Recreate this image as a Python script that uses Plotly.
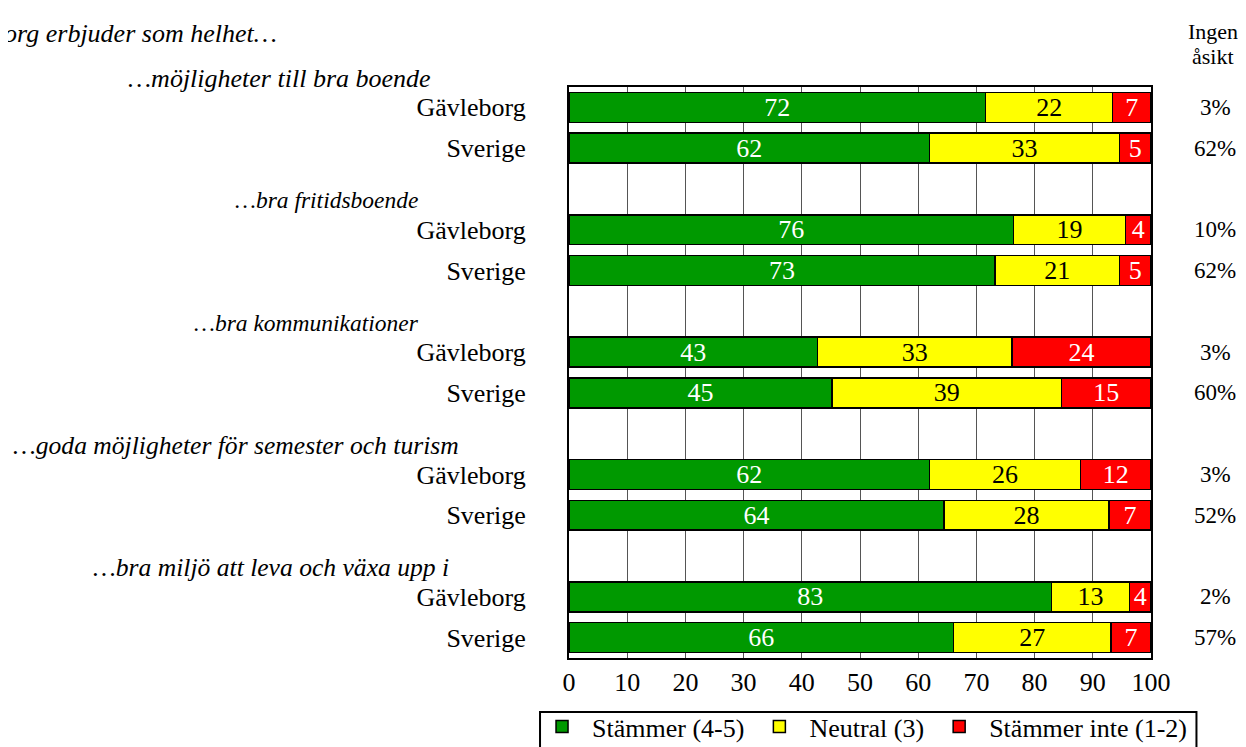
import plotly.graph_objects as go

# ---- data ----
groups = ["…möjligheter till bra boende", "…bra fritidsboende", "…bra kommunikationer",
          "…goda möjligheter för semester och turism", "…bra miljö att leva och växa upp i"]
regions = ["Gävleborg", "Sverige"]
stammer = [71.6, 61.9, 76.4, 73.2, 42.7, 45.2, 61.9, 64.4, 82.9, 66.1]
neutral = [21.8, 32.7, 19.2, 21.4, 33.4, 39.4, 26.0, 28.4, 13.4, 27.0]
stammer_inte = [6.6, 5.4, 4.4, 5.4, 23.9, 15.4, 12.1, 7.2, 3.7, 6.9]
ingen_asikt = ["3%", "62%", "10%", "62%", "3%", "60%", "3%", "52%", "2%", "57%"]
series_names = ["Stämmer (4-5)", "Neutral (3)", "Stämmer inte (1-2)"]
x_ticks = [0, 10, 20, 30, 40, 50, 60, 70, 80, 90, 100]
title_text = "Gävleborg erbjuder som helhet…"
ingen_header = ["Ingen", "åsikt"]

# ---- layout helpers ----
FONT = "Liberation Serif"
OFF = 8  # page body margin
ypos = []
labels = []
for g in range(len(groups)):
    for r in range(len(regions)):
        ypos.append(g * 3 + r)
        labels.append(regions[r])
Y_MIN, Y_MAX = -0.5, 13.5

header_x_end = [433, 420, 421, 461, 451]  # right edge of header text in screen px
header_size = [26, 23.5, 23.5, 25.6, 25.6]
PLOT_L, PLOT_R = 569 - OFF, 1151.5 - OFF
PLOT_T, PLOT_B = 87 - OFF, 658 - OFF
W, H = 1246, 747

def px_to_paper_x(px):
    return (px - OFF - PLOT_L) / (PLOT_R - PLOT_L)

def py_to_paper_y(py):
    return (PLOT_B - (py - OFF)) / (PLOT_B - PLOT_T)

def data_y_to_paper(y):
    return (Y_MAX - y) / (Y_MAX - Y_MIN)

colors = ["#009900", "#FFFF00", "#FF0000"]
text_colors = ["white", "black", "white"]
values = [stammer, neutral, stammer_inte]

fig = go.Figure()
for name, vals, c, tc in zip(series_names, values, colors, text_colors):
    fig.add_trace(go.Bar(
        x=vals, y=ypos, orientation="h", name=name,
        marker=dict(color=c, line=dict(color="black", width=1.5)),
        texttemplate="%{x:.0f}", textposition="inside", insidetextanchor="middle",
        textangle=0, textfont=dict(family=FONT, size=26, color=tc),
        constraintext="none", hoverinfo="skip",
    ))

annotations = []
annotations.append(dict(text=f"<i>{title_text}</i>", xref="paper", yref="paper",
                        x=px_to_paper_x(279), y=py_to_paper_y(33), xanchor="right", yanchor="middle",
                        showarrow=False, font=dict(family=FONT, size=26, color="black")))
for g, name in enumerate(groups):
    annotations.append(dict(text=f"<i>{name}</i>", xref="paper", yref="paper",
                            x=px_to_paper_x(header_x_end[g]), y=data_y_to_paper(g * 3 - 0.72),
                            xanchor="right", yanchor="middle", showarrow=False,
                            font=dict(family=FONT, size=header_size[g], color="black")))
for line, py in zip(ingen_header, [31, 57]):
    annotations.append(dict(text=line, xref="paper", yref="paper",
                            x=px_to_paper_x(1214), y=py_to_paper_y(py), xanchor="center", yanchor="middle",
                            showarrow=False, font=dict(family=FONT, size=22, color="black")))
for yv, t in zip(ypos, ingen_asikt):
    annotations.append(dict(text=t, xref="paper", yref="y", x=px_to_paper_x(1216), y=yv,
                            xanchor="center", yanchor="middle", showarrow=False,
                            font=dict(family=FONT, size=23, color="black")))

# legend frame
shapes = [dict(type="rect", xref="paper", yref="paper",
               x0=px_to_paper_x(540), x1=px_to_paper_x(1197),
               y0=py_to_paper_y(712), y1=py_to_paper_y(770),
               line=dict(color="black", width=2), fillcolor="rgba(0,0,0,0)", layer="above")]

fig.update_layout(
    width=W, height=H, barmode="stack", bargap=0.265,
    paper_bgcolor="white", plot_bgcolor="white",
    margin=dict(l=PLOT_L, r=W - PLOT_R, t=PLOT_T, b=H - PLOT_B, autoexpand=False),
    font=dict(family=FONT, size=26, color="black"),
    uniformtext=dict(minsize=26, mode="show"),
    showlegend=True,
    legend=dict(orientation="h", x=px_to_paper_x(532), y=py_to_paper_y(703),
                xanchor="left", yanchor="top", borderwidth=0,
                font=dict(family=FONT, size=26, color="black"), traceorder="normal",
                itemwidth=50, bgcolor="rgba(0,0,0,0)"),
    annotations=annotations,
    shapes=shapes,
)
fig.update_xaxes(range=[0, 100], tickvals=x_ticks, showgrid=True, gridcolor="#555555", gridwidth=1,
                 showline=True, linecolor="black", linewidth=2, mirror=True, zeroline=False,
                 ticks="", tickfont=dict(family=FONT, size=26))
fig.update_yaxes(range=[Y_MAX, Y_MIN], tickvals=ypos, ticktext=labels, showgrid=False,
                 showline=True, linecolor="black", linewidth=2, mirror=True, zeroline=False,
                 ticks="outside", ticklen=36, tickcolor="rgba(0,0,0,0)",
                 tickfont=dict(family=FONT, size=26))

fig.write_html("out.html")
